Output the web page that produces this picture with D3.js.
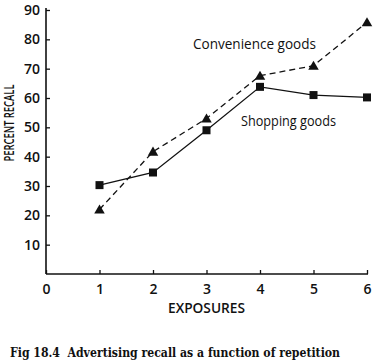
<!DOCTYPE html>
<html>
<head>
<meta charset="utf-8">
<script src="https://cdn.jsdelivr.net/npm/d3@7"></script>
<style>
  body { margin: 0; background: #fff; }
  svg text { fill: #111; }
</style>
</head>
<body>
<script>
const w = 384;
const h = 363;

// data
const exposures = [1, 2, 3, 4, 5, 6];
const shopping = [30.3, 34.6, 49, 63.8, 61, 60.2];
const convenience = [22, 41.7, 53, 67.6, 71, 85.8];
const xTicks = [0, 1, 2, 3, 4, 5, 6];
const yTicks = [10, 20, 30, 40, 50, 60, 70, 80, 90];

const labelFont = "'Open Sans', 'DejaVu Sans', sans-serif";

const x = d3.scaleLinear().domain([0, 6]).range([46, 367]);
const y = d3.scaleLinear().domain([0, 90]).range([274, 10]);

const svg = d3.select("body").append("svg")
  .attr("width", w)
  .attr("height", h);

// y axis
const yAxis = d3.axisLeft(y).tickValues(yTicks).tickFormat(d3.format("d"))
  .tickSize(-4).tickPadding(6).tickSizeOuter(0);
const gy = svg.append("g")
  .attr("transform", "translate(" + x(0) + ",0)")
  .call(yAxis);
gy.select(".domain").attr("stroke", "#111").attr("stroke-width", 1.6).attr("d", "M0," + y(0) + "V" + (y(90) - 2));
gy.selectAll(".tick line").attr("stroke", "#111").attr("stroke-width", 1.3);
gy.selectAll(".tick text")
  .attr("font-family", labelFont)
  .attr("font-weight", 600)
  .attr("font-size", 14)
  .attr("fill", "#111");

// x axis
const xAxis = d3.axisBottom(x).tickValues(xTicks).tickFormat(d3.format("d"))
  .tickSize(-4).tickPadding(10).tickSizeOuter(0);
const gx = svg.append("g")
  .attr("transform", "translate(0," + y(0) + ")")
  .call(xAxis);
gx.select(".domain").attr("stroke", "#111").attr("stroke-width", 1.6).attr("d", "M" + x(0) + ",0H" + (x(6) + 1));
gx.selectAll(".tick line").attr("stroke", "#111").attr("stroke-width", 1.3);
gx.selectAll(".tick text")
  .attr("font-family", labelFont)
  .attr("font-weight", 600)
  .attr("font-size", 14)
  .attr("fill", "#111");

// axis titles
svg.append("text")
  .attr("x", x(3))
  .attr("y", 313)
  .attr("text-anchor", "middle")
  .attr("font-family", labelFont)
  .attr("font-weight", 600)
  .attr("font-size", 14)
  .attr("textLength", 77)
  .attr("lengthAdjust", "spacingAndGlyphs")
  .text("EXPOSURES");

svg.append("text")
  .attr("transform", "translate(14,123) rotate(-90)")
  .attr("text-anchor", "middle")
  .attr("font-family", labelFont)
  .attr("font-weight", 600)
  .attr("font-size", 14)
  .attr("textLength", 77)
  .attr("lengthAdjust", "spacingAndGlyphs")
  .text("PERCENT RECALL");

// lines
const line = d3.line()
  .x((d, i) => x(exposures[i]))
  .y(d => y(d));

svg.append("path")
  .datum(convenience)
  .attr("d", line)
  .attr("fill", "none")
  .attr("stroke", "#111")
  .attr("stroke-width", 1.3)
  .attr("stroke-dasharray", "6,4");

svg.append("path")
  .datum(shopping)
  .attr("d", line)
  .attr("fill", "none")
  .attr("stroke", "#111")
  .attr("stroke-width", 1.3);

// markers
svg.selectAll(".sq")
  .data(shopping)
  .enter().append("rect")
  .attr("x", (d, i) => x(exposures[i]) - 4)
  .attr("y", d => y(d) - 4)
  .attr("width", 8)
  .attr("height", 8)
  .attr("fill", "#111");

const tri = d3.symbol().type(d3.symbolTriangle).size(48);
svg.selectAll(".tri")
  .data(convenience)
  .enter().append("path")
  .attr("d", tri)
  .attr("transform", (d, i) => "translate(" + x(exposures[i]) + "," + (y(d) + 1) + ")")
  .attr("fill", "#111");

// series labels
svg.append("text")
  .attr("x", 193)
  .attr("y", 49)
  .attr("font-family", labelFont)
  .attr("font-size", 14)
  .attr("textLength", 123)
  .attr("lengthAdjust", "spacingAndGlyphs")
  .text("Convenience goods");

svg.append("text")
  .attr("x", 241)
  .attr("y", 126)
  .attr("font-family", labelFont)
  .attr("font-size", 14)
  .attr("textLength", 95)
  .attr("lengthAdjust", "spacingAndGlyphs")
  .text("Shopping goods");

// caption
svg.append("text")
  .attr("x", 10)
  .attr("y", 357)
  .attr("font-family", "'DejaVu Serif', serif")
  .attr("font-weight", "bold")
  .attr("font-size", 12)
  .attr("textLength", 330)
  .attr("lengthAdjust", "spacingAndGlyphs")
  .style("white-space", "pre")
  .text("Fig 18.4  Advertising recall as a function of repetition");
</script>
</body>
</html>
